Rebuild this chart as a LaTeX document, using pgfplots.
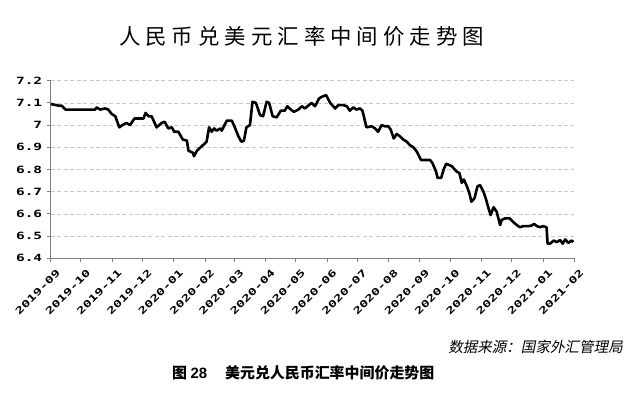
\documentclass[border=0pt]{standalone}
\usepackage{pgfplots}
\pgfplotsset{compat=1.18}
\usepackage{fontspec}
\setmainfont{Liberation Sans}
\newfontfamily\cjk{Noto Sans CJK SC}
\newfontfamily\cjkit[FakeSlant=0.2]{Noto Sans CJK SC}
\newfontfamily\tickfont[FakeStretch=1.45]{DejaVu Sans Mono}
\definecolor{gridc}{RGB}{200,200,200}
\definecolor{axc}{RGB}{128,128,128}
\begin{document}
\begin{tikzpicture}[x=1bp,y=1bp]
\useasboundingbox (0,0) rectangle (639,-394);
\begin{axis}[
  at={(50.7bp,-258.3bp)}, anchor=south west,
  width=523.6bp, height=177.6bp, scale only axis,
  xmin=0, xmax=519, ymin=6.4, ymax=7.2,
  axis x line*=bottom, axis y line*=left,
  axis line style={axc, line width=1.2bp},
  ytick={6.4,6.5,6.6,6.7,6.8,6.9,7.0,7.1,7.2},
  xtick={0,30,61,91,122,153,182,213,243,274,304,335,366,396,427,457,488,519},
  xticklabels={2019-09,2019-10,2019-11,2019-12,2020-01,2020-02,2020-03,2020-04,2020-05,2020-06,2020-07,2020-08,2020-09,2020-10,2020-11,2020-12,2021-01,2021-02},
  tick align=outside, major tick length=4bp,
  tick style={axc, line width=1bp},
  ymajorgrids, grid style={gridc, dash pattern=on 4bp off 2.5bp, line width=0.8bp},
  /pgf/number format/assume math mode=true,
  /pgf/number format/fixed,
  yticklabel style={font=\tickfont\bfseries\fontsize{10}{10}\selectfont, xshift=-1bp},
  xticklabel style={font=\tickfont\bfseries\fontsize{9.6}{9.6}\selectfont, xshift=5bp, yshift=-5bp, rotate=45, anchor=north east, inner sep=1bp},
  clip=false,
]
\addplot[black, line width=2.6bp, line join=round] table {
x y
0 7.095
7.5 7.088
11 7.087
14.7 7.07
44 7.07
45.5 7.08
49 7.07
54 7.075
57 7.07
60.5 7.05
64 7.04
68 6.99
71 7.0
75 7.01
78.6 7.0
83 7.03
87 7.03
92 7.03
94 7.055
97 7.04
100 7.04
105 6.99
110 7.01
113 7.015
116.5 6.985
120 6.99
122.5 6.97
126.5 6.97
131 6.935
135 6.93
136.5 6.885
141 6.875
142 6.86
145 6.885
154.5 6.925
157 6.99
159.5 6.97
162 6.985
164.5 6.975
168 6.985
169.5 6.975
174.5 7.02
179.5 7.02
182.5 6.99
186 6.95
189 6.925
191.5 6.93
194 6.99
197.5 7.0
200 7.105
203.5 7.1
207.5 7.045
210.5 7.04
214 7.105
216.5 7.1
220 7.04
224 7.035
228 7.065
232 7.065
234.5 7.085
238 7.07
241 7.06
245.5 7.07
249 7.085
252 7.075
258.5 7.1
262 7.085
266 7.12
268.5 7.127
273 7.135
277 7.1
282 7.075
285 7.09
290 7.09
293.5 7.085
296.5 7.065
300 7.08
303 7.07
306.5 7.075
309 7.065
313 6.99
318 6.995
321.5 6.985
324.5 6.97
328 7.0
331 6.995
334.5 6.995
337 6.98
340 6.94
343 6.96
346 6.95
349.5 6.935
353 6.925
356 6.91
359.5 6.9
363 6.88
367 6.843
371 6.843
376 6.843
378.5 6.828
382 6.79
383.5 6.762
387 6.762
389.5 6.8
392 6.826
397.5 6.815
402.5 6.79
405 6.785
407.5 6.74
409.5 6.755
412.5 6.725
415 6.693
417 6.655
420 6.67
423 6.724
425.5 6.73
429 6.7
431.5 6.665
434 6.625
436 6.595
439 6.63
442 6.61
445.5 6.55
447 6.573
450.5 6.58
455 6.58
458 6.565
462 6.55
465 6.54
468.5 6.545
473.5 6.545
477 6.548
479 6.555
482 6.545
485 6.54
488 6.545
491.5 6.54
492.5 6.466
495 6.466
498.5 6.48
501.5 6.473
505 6.482
507.5 6.466
510 6.485
513 6.47
516.5 6.48
518 6.473
};
\end{axis}
\def\ls{\hspace{5bp}}
\node[font=\cjk\fontsize{21.5}{21.5}\selectfont] at (301.5,-36) {人\ls 民\ls 币\ls 兑\ls 美\ls 元\ls 汇\ls 率\ls 中\ls 间\ls 价\ls 走\ls 势\ls 图};
\node[anchor=east, font=\cjkit\fontsize{14.6}{14.6}\selectfont, inner sep=0pt] at (623,-347) {数据来源：国家外汇管理局};
\node[anchor=west, font=\cjk\bfseries\fontsize{15}{15}\selectfont, inner sep=0pt] at (172,-373) {图 {\rmfamily\bfseries 28}\hspace{1.2em}美元兑人民币汇率中间价走势图};
\end{tikzpicture}
\end{document}
